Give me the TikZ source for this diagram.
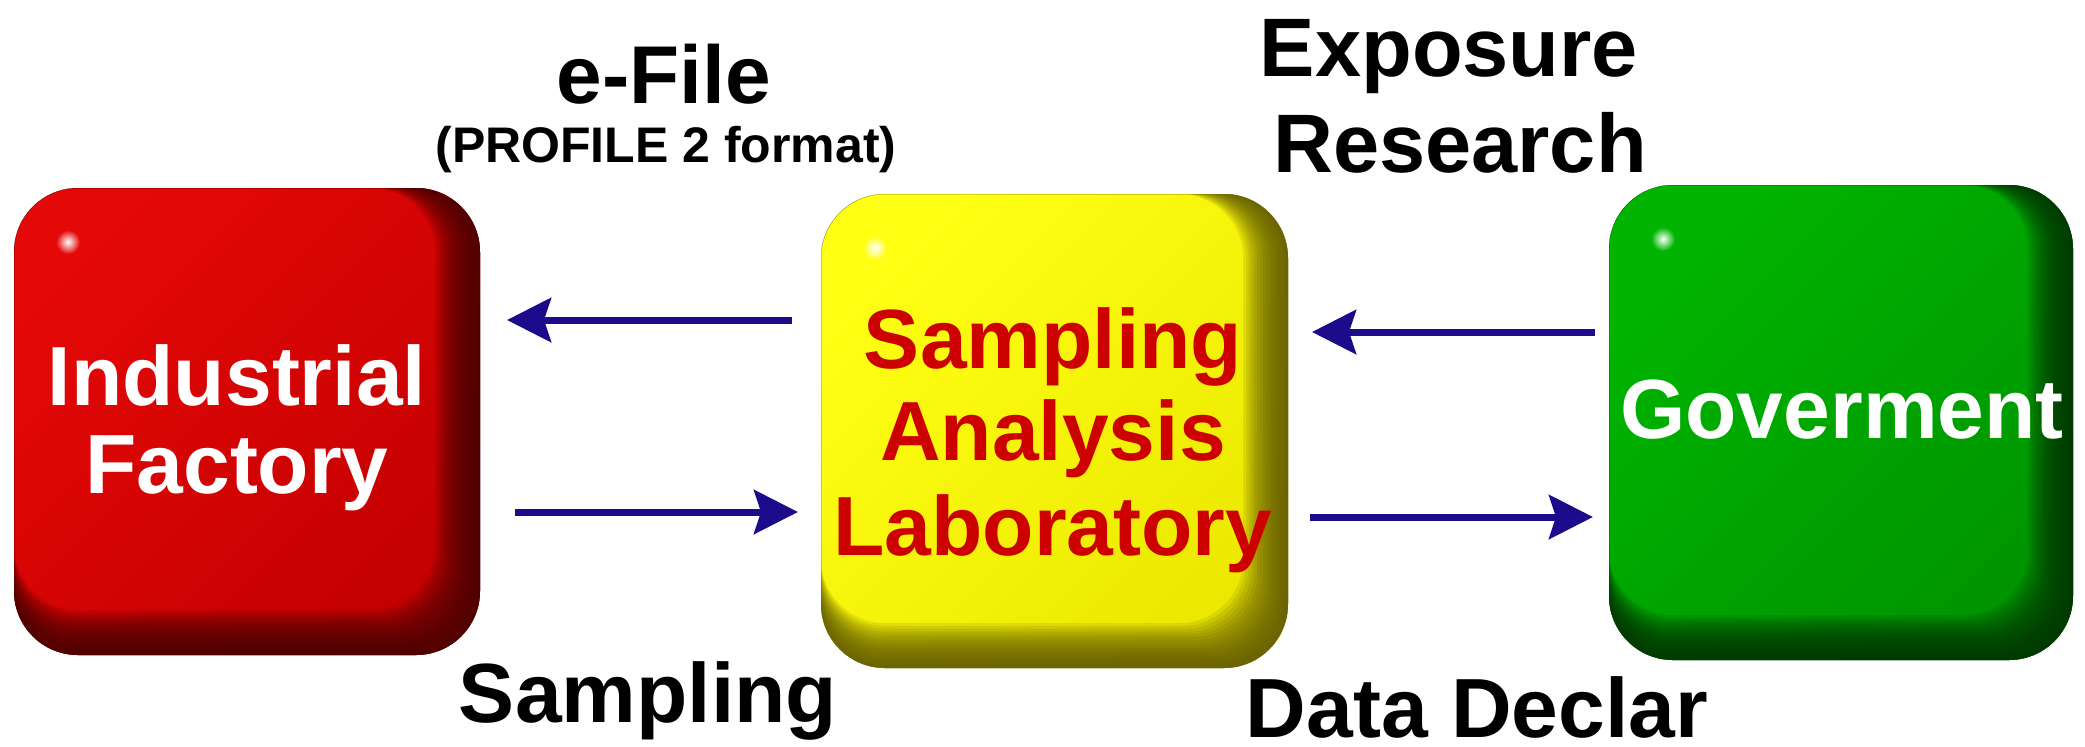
\documentclass[tikz,border=0pt]{standalone}
\usepackage{fontspec}
\setmainfont{Liberation Sans}
\usetikzlibrary{arrows.meta}
\definecolor{redB}{RGB}{228,8,8}
\definecolor{redM}{RGB}{196,0,0}
\definecolor{redE}{RGB}{70,0,0}
\definecolor{yelB}{RGB}{255,255,20}
\definecolor{yelM}{RGB}{236,232,0}
\definecolor{yelE}{RGB}{95,88,0}
\definecolor{grnB}{RGB}{0,180,0}
\definecolor{grnM}{RGB}{0,148,0}
\definecolor{grnE}{RGB}{0,50,0}
\definecolor{labred}{RGB}{205,0,0}
\definecolor{navy}{RGB}{28,12,140}
\newcommand\glossyfill[4]{%
  \shade[rounded corners=32pt, shading=axis, top color=#2, bottom color=#3, shading angle=45]
    (#1.north west) rectangle (#1.south east);
  \foreach \i in {1,...,16}{%
    \pgfmathsetmacro\d{1.4*\i}%
    \fill[#4, opacity=0.13, even odd rule, rounded corners=32pt]
      (#1.north west) rectangle (#1.south east)
      (#1.north west) rectangle ([xshift=-\d pt, yshift=\d pt]#1.south east);
  }%
  \shade[inner color=white, outer color=#2] ([xshift=27pt, yshift=-27pt]#1.north west) circle[radius=6pt];
}
\tikzset{
  boxshape/.style={inner sep=0pt, outer sep=0pt, rectangle, rounded corners=32pt},
  lbl/.style={font=\bfseries\fontsize{42pt}{50pt}\selectfont, inner sep=0pt, anchor=base},
  small/.style={font=\bfseries\fontsize{25pt}{30pt}\selectfont, inner sep=0pt, anchor=base},
  arr/.style={-{Stealth[length=22pt, width=22pt, inset=3.5pt]}, line width=3.5pt, draw=navy, fill=navy}
}
\begin{document}
\begin{tikzpicture}[x=0.5pt, y=-0.5pt]
  \fill[white] (0,0) rectangle (2085,746);
  \useasboundingbox (0,0) rectangle (2085,746);

  % boxes
  \node[boxshape, minimum width=233pt, minimum height=233.5pt] (fac) at (247,421.5) {};
  \node[boxshape, minimum width=233.5pt, minimum height=237pt] (lab) at (1054.5,431) {};
  \node[boxshape, minimum width=232pt, minimum height=237.5pt] (gov) at (1841,422.5) {};
  \glossyfill{fac}{redB}{redM}{redE}
  \glossyfill{lab}{yelB}{yelM}{yelE}
  \glossyfill{gov}{grnB}{grnM}{grnE}

  % box texts
  \node[lbl, text=white] (facA) at (237,405) {Industrial};
  \node[lbl, text=white] (facB) at (237,493) {Factory};
  \node[lbl, text=labred] (labA) at (1053,368) {Sampling};
  \node[lbl, text=labred] (labB) at (1053,460) {Analysis};
  \node[lbl, text=labred] (labC) at (1053,555) {Laboratory};
  \node[lbl, text=white] (govA) at (1842,438) {Goverment};

  % outside labels
  \node[lbl, font=\bfseries\fontsize{41pt}{50pt}\selectfont] (efile) at (664,103) {e-File};
  \node[small] (prof) at (666,162) {(PROFILE 2 format)};
  \node[lbl, font=\bfseries\fontsize{41.5pt}{50pt}\selectfont] (expo) at (1449,76) {Exposure};
  \node[lbl, font=\bfseries\fontsize{41.5pt}{50pt}\selectfont] (res) at (1460,172) {Research};
  \node[lbl] (samp) at (648,722) {Sampling};
  \node[lbl] (decl) at (1477,737) {Data Declar};

  % arrows
  \coordinate (yA) at (0,320);
  \coordinate (yB) at (0,512);
  \coordinate (yC) at (0,332);
  \coordinate (yD) at (0,517);
  \draw[arr, shorten <=14.5pt, shorten >=13.5pt] (lab.west |- yA) -- (fac.east |- yA);
  \draw[arr, shorten <=17.5pt, shorten >=11.5pt] (fac.east |- yB) -- (lab.west |- yB);
  \draw[arr, shorten <=7pt, shorten >=12pt] (gov.west |- yC) -- (lab.east |- yC);
  \draw[arr, shorten <=11pt, shorten >=8pt] (lab.east |- yD) -- (gov.west |- yD);
\end{tikzpicture}
\end{document}
